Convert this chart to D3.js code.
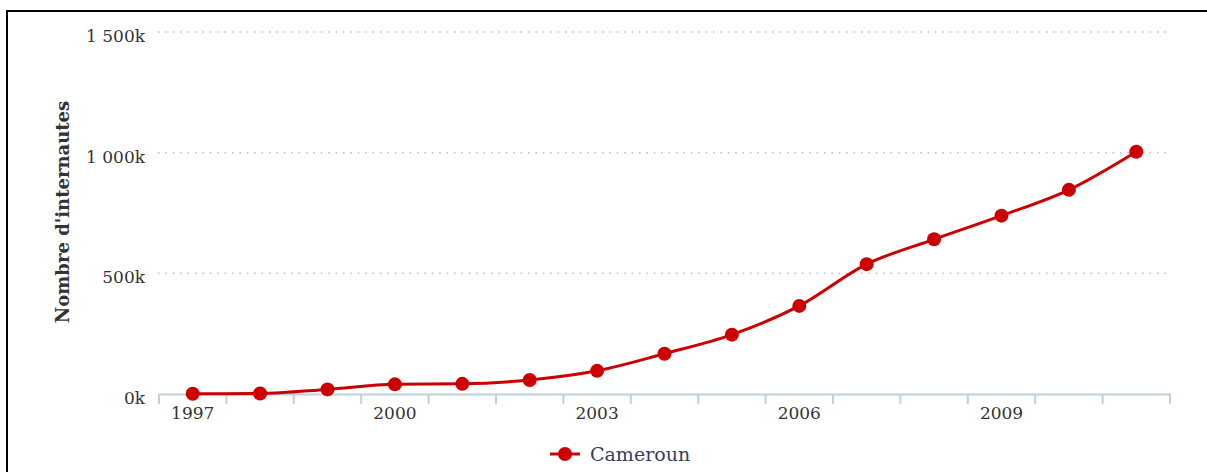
<!DOCTYPE html>
<html>
<head>
<meta charset="utf-8">
<script src="https://cdn.jsdelivr.net/npm/d3@7"></script>
<style>
  html, body { margin: 0; padding: 0; background: #fff; overflow: hidden; }
  svg { display: block; }
</style>
</head>
<body>
<div id="chart"></div>
<script>
// Internet users in Cameroon
const years = [1997, 1998, 1999, 2000, 2001, 2002, 2003, 2004, 2005, 2006, 2007, 2008, 2009, 2010, 2011]
const users = [1000, 2000, 19000, 40000, 42000, 58000, 96000, 167000, 246000, 365000, 538000, 641000, 739000, 846000, 1004000]
const yTicks = [0, 500000, 1000000, 1500000]
const xLabelYears = [1997, 2000, 2003, 2006, 2009]
const seriesName = "Cameroun"
const yTitle = "Nombre d'internautes"

const width = 1207
const height = 472
const red = "#cc0000"
const font = "'DejaVu Serif', serif"

const svg = d3.select("#chart").append("svg")
    .attr("width", width)
    .attr("height", height)

// frame (only left and top edges are visible in the crop)
svg.append("rect")
    .attr("x", 7).attr("y", 11)
    .attr("width", width + 20).attr("height", height + 20)
    .attr("fill", "none")
    .attr("stroke", "#000")
    .attr("stroke-width", 2)

const x = d3.scaleBand()
    .domain(years)
    .range([159, 1170])

const y = d3.scaleLinear()
    .domain([0, 1500000])
    .range([394, 32])

// dotted grid lines
svg.append("g")
    .selectAll("line")
    .data(yTicks.filter(d => d > 0))
    .join("line")
      .attr("x1", 158).attr("x2", 1166)
      .attr("y1", d => y(d)).attr("y2", d => y(d))
      .attr("stroke", "#bdbdbd")
      .attr("stroke-width", 1.5)
      .attr("stroke-dasharray", "1.5,5.9")

// y tick labels
svg.append("g")
    .attr("font-family", font)
    .attr("font-size", 17)
    .attr("fill", "#333")
    .attr("text-anchor", "end")
  .selectAll("text")
  .data(yTicks)
  .join("text")
    .attr("x", 145)
    .attr("y", d => y(d) + 10)
    .text(d => d3.format(",")(d / 1000).replace(/,/g, " ") + "k")

// y title
svg.append("text")
    .attr("transform", `translate(69,212) rotate(-90)`)
    .attr("text-anchor", "middle")
    .attr("font-family", font)
    .attr("font-weight", "bold")
    .attr("font-size", 18)
    .attr("fill", "#333")
    .text(yTitle)

// x axis: line, ticks between categories, labels every 3 years
const xAxis = svg.append("g")
    .attr("transform", `translate(0,${y(0)})`)
    .call(d3.axisBottom(x)
      .tickValues(xLabelYears)
      .tickSize(0)
      .tickPadding(13))
xAxis.select(".domain").attr("stroke", "#c0d0e0").attr("stroke-width", 2)
xAxis.selectAll("text")
    .attr("font-family", font)
    .attr("font-size", 17)
    .attr("fill", "#333")

const boundaries = years.map(d => x(d)).concat([x.range()[1]])
xAxis.append("g")
  .selectAll("line")
  .data(boundaries)
  .join("line")
    .attr("x1", d => d).attr("x2", d => d)
    .attr("y1", 0).attr("y2", 10)
    .attr("stroke", "#c0d0e0")
    .attr("stroke-width", 2)

// series
const points = years.map((yr, i) => [x(yr) + x.bandwidth() / 2, y(users[i])])

const line = d3.line().curve(d3.curveMonotoneX)

svg.append("path")
    .attr("d", line(points))
    .attr("fill", "none")
    .attr("stroke", red)
    .attr("stroke-width", 3)

svg.append("g")
    .attr("fill", red)
  .selectAll("circle")
  .data(points)
  .join("circle")
    .attr("cx", d => d[0])
    .attr("cy", d => d[1])
    .attr("r", 7)

// legend
const legend = svg.append("g").attr("transform", "translate(550,454)")
legend.append("line")
    .attr("x1", 0).attr("x2", 30)
    .attr("stroke", red).attr("stroke-width", 3)
legend.append("circle").attr("cx", 15).attr("r", 7).attr("fill", red)
legend.append("text")
    .attr("x", 40).attr("y", 7)
    .attr("font-family", font)
    .attr("font-size", 19)
    .attr("fill", "#2f3f5f")
    .text(seriesName)
</script>
</body>
</html>
